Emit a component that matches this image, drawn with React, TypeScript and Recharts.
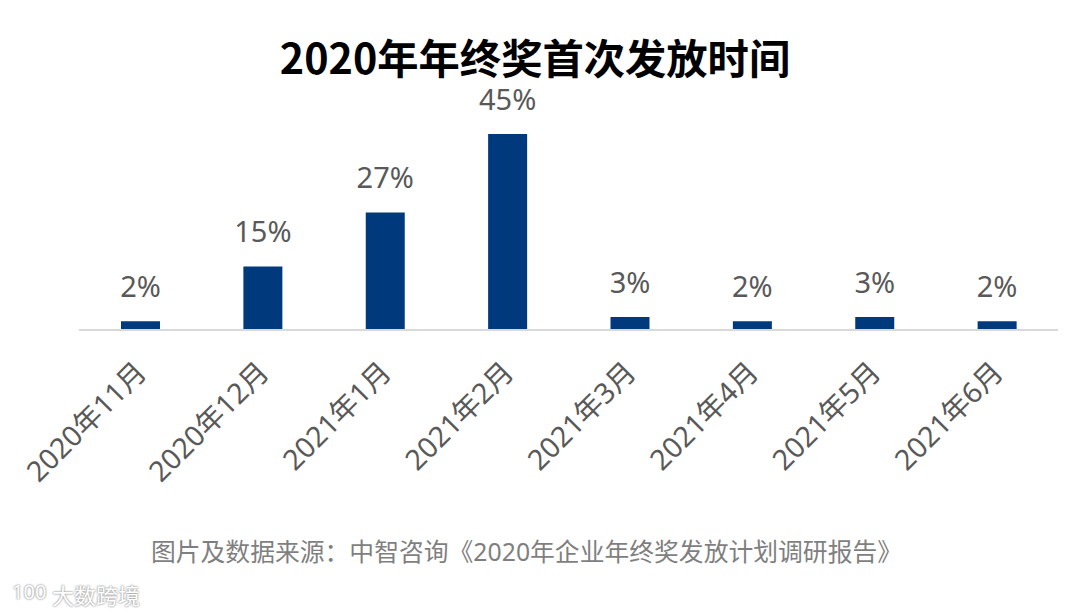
import { BarChart, Bar, XAxis, YAxis, LabelList } from 'recharts';

const categories = ['2020年11月', '2020年12月', '2021年1月', '2021年2月', '2021年3月', '2021年4月', '2021年5月', '2021年6月'];
const shares = [2, 14.6, 27, 45, 3, 2, 3, 2];
const shownLabels = ['2%', '15%', '27%', '45%', '3%', '2%', '3%', '2%'];

const chartData = categories.map((name, i) => ({ name, value: shares[i], label: shownLabels[i] }));

const FONT = '"Noto Sans", "Noto Sans CJK SC", sans-serif';
const TITLE_FONT = '"Noto Sans CJK SC", "Noto Sans", sans-serif';

// rotated category labels, end anchored under the bar
function SlantTick({ x, y, payload }: any) {
  return (
    <text
      x={x + 8}
      y={y + 36}
      transform={`rotate(-45 ${x + 8} ${y + 36})`}
      textAnchor="end"
      fontSize={28.5}
      fill="#595959"
      fontFamily={FONT}
    >
      {payload.value}
    </text>
  );
}

export default function App() {
  return (
    <div style={{ position: 'absolute', left: 0, top: 0, width: 1080, height: 615, background: '#fff', overflow: 'hidden', fontFamily: FONT }}>
      <div style={{ position: 'absolute', left: 0, width: 1070, top: 34, textAlign: 'center', fontSize: 41.3, fontWeight: 700, color: '#000', lineHeight: '44px', fontFamily: TITLE_FONT }}>
        2020年年终奖首次发放时间
      </div>
      <div style={{ position: 'absolute', left: 0, width: 1053, top: 533, textAlign: 'center', fontSize: 24.8, color: '#7f7f7f', lineHeight: '36px', whiteSpace: 'nowrap' }}>
        图片及数据来源：中智咨询《2020年企业年终奖发放计划调研报告》
      </div>
      <div style={{ position: 'absolute', left: 52, top: 579, fontSize: 22, color: '#fff', lineHeight: '30px', fontFamily: TITLE_FONT, textShadow: '0 0 2px #999, 0 0 2px #999' }}>
        大数跨境
      </div>
      <div style={{ position: 'absolute', left: 12, top: 579, fontSize: 20, color: '#fff', lineHeight: '26px', textShadow: '0 0 2px #999, 0 0 2px #999' }}>
        100
      </div>
      <div style={{ position: 'absolute', left: 0, top: 0 }}>
        <BarChart width={1080} height={520} data={chartData} margin={{ top: 134, right: 22, bottom: 0, left: 79 }}>
          <XAxis dataKey="name" interval={0} tick={<SlantTick />} tickLine={false} axisLine={{ stroke: '#d9d9d9', strokeWidth: 2 }} height={190} />
          <YAxis hide domain={[0, 45]} />
          <Bar dataKey="value" fill="#003a7d" barSize={39} isAnimationActive={false}>
            <LabelList dataKey="label" position="top" offset={24} fontSize={29} fill="#595959" fontFamily={FONT} />
          </Bar>
        </BarChart>
      </div>
    </div>
  );
}
